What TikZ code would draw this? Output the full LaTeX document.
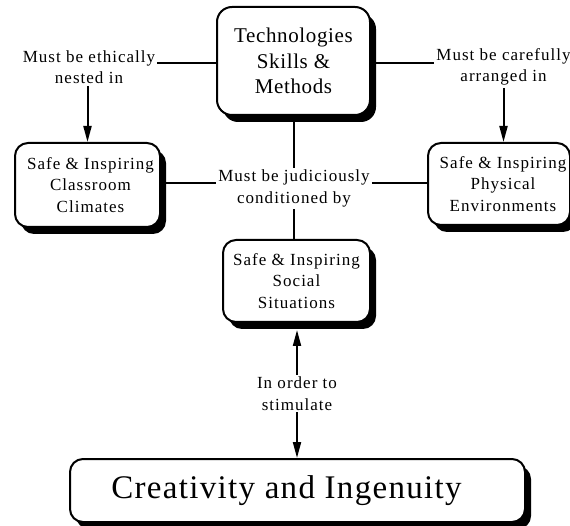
\documentclass[tikz,border=0pt]{standalone}
\usepackage{fontspec}
\setmainfont{Liberation Serif}
\newfontfamily\smallface[LetterSpace=6]{Liberation Serif}
\newfontfamily\headface[LetterSpace=3]{Liberation Serif}
\newfontfamily\bigface[LetterSpace=4]{Liberation Serif}
\usetikzlibrary{arrows.meta,shadows}

\begin{document}
\begin{tikzpicture}[x=1pt,y=-1pt,
  box/.style={draw=black, line width=2pt, fill=white, rounded corners=13pt,
    align=center, inner sep=0pt,
    drop shadow={shadow xshift=6pt,shadow yshift=-7pt,fill=black,opacity=1}},
  smalltext/.style={font=\smallface\fontsize{17}{21.5}\selectfont},
  lbl/.style={smalltext, align=center, inner sep=2pt},
  link/.style={line width=2pt},
  arrow/.style={link, -{Triangle[length=16pt,width=8pt]}}
]
% canvas
\fill[white] (0,0) rectangle (570,526);
\useasboundingbox (0,0) rectangle (570,526);

% boxes
\node[box, minimum width=153pt, minimum height=108pt, rounded corners=15pt,
  font=\headface\fontsize{21}{25.5}\selectfont] (T) at (293.5,61)
  {Technologies\\Skills \&\\Methods};
\node[box, smalltext, minimum width=145pt, minimum height=84pt] (L) at (87.5,185)
  {\hspace*{6pt}Safe \& Inspiring\\\hspace*{6pt}Classroom\\\hspace*{6pt}Climates};
\node[box, smalltext, minimum width=142pt, minimum height=82pt] (R) at (499,184)
  {\hspace*{8pt}Safe \& Inspiring\\\hspace*{8pt}Physical\\\hspace*{8pt}Environments};
\node[box, smalltext, minimum width=147pt, minimum height=82pt] (M) at (296.5,281)
  {Safe \& Inspiring\\Social\\Situations};
\node[box, minimum width=455pt, minimum height=63pt,
  font=\bigface\fontsize{33}{40}\selectfont] (B) at (297.5,490.5)
  {Creativity and Ingenuity\hspace*{22pt}};

% link labels
\node[lbl] (la) at (89,67) {Must be ethically\\nested in};
\node[lbl] (lb) at (503.5,67) {Must be carefully\\arranged in};
\node[lbl] (lc) at (294,188.5) {Must be judiciously\\conditioned by};
\node[lbl] (ld) at (297,393.5) {In order to\\stimulate};

% helper points
\coordinate (tw) at ([yshift=-2pt]T.west);
\coordinate (te) at ([yshift=-2pt]T.east);
\coordinate (cl) at ([yshift=5.5pt]lc.west);
\coordinate (cr) at ([yshift=5.5pt]lc.east);
\coordinate (ms) at ([yshift=-7pt]M.south);

% connectors
\draw[link] (tw) -- (tw -| la.east);
\draw[arrow] (la.south -| L.north) -- (L.north);
\draw[link] (te) -- (te -| lb.west);
\draw[arrow] (lb.south) -- (lb.south |- R.north);
\draw[link] (T.south) -- (T.south |- lc.north);
\draw[link] (L.east |- cl) -- (cl);
\draw[link] (cr) -- (cr -| R.west);
\draw[link] (lc.south) -- (lc.south |- M.north);
\draw[arrow] (ld.north) -- (ld.north |- ms);
\draw[arrow] (ld.south) -- (ld.south |- B.north);
\end{tikzpicture}
\end{document}
